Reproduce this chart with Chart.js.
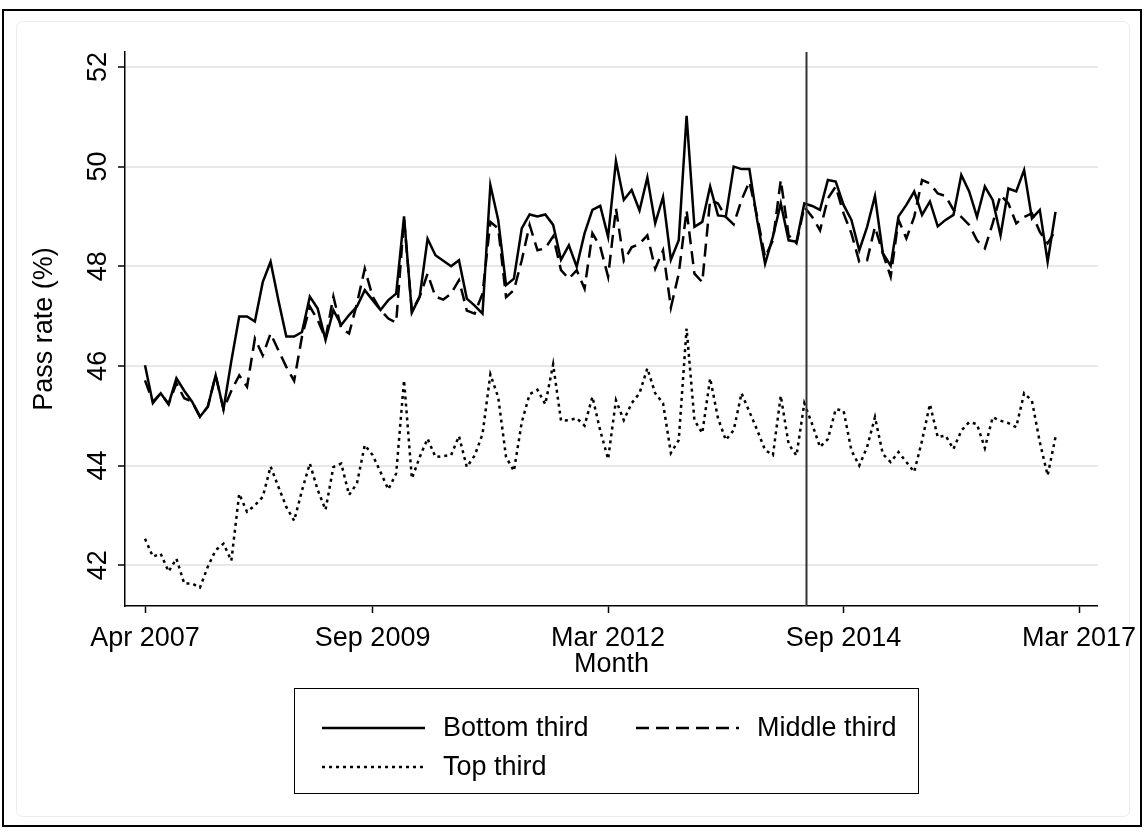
<!DOCTYPE html>
<html>
<head>
<meta charset="utf-8">
<script src="https://cdn.jsdelivr.net/npm/chart.js@4"></script>
<style>
  html, body { margin: 0; padding: 0; background: #fff; }
</style>
</head>
<body>
<canvas id="chart" width="1146" height="834"></canvas>
<script>
// monthly pass rates, first month = Apr 2007 (month index 0)
const bottomThird = [
  46.01, 45.25, 45.45, 45.23, 45.75, 45.50, 45.28, 44.98, 45.18, 45.81,
  45.13, 46.10, 46.99, 46.99, 46.89, 47.68, 48.09, 47.31, 46.59, 46.59,
  46.68, 47.39, 47.15, 46.52, 47.12, 46.82, 47.02, 47.19, 47.52, 47.32,
  47.12, 47.32, 47.45, 49.00, 47.07, 47.39, 48.55, 48.22, 48.11, 48.00,
  48.12, 47.35, 47.21, 47.05, 49.63, 48.93, 47.62, 47.75, 48.76, 49.04,
  49.00, 49.04, 48.83, 48.13, 48.42, 47.99, 48.66, 49.13, 49.21, 48.59,
  50.11, 49.33, 49.53, 49.12, 49.78, 48.86, 49.39, 48.13, 48.52, 51.02,
  48.79, 48.89, 49.60, 49.02, 49.00, 50.00, 49.95, 49.95, 48.92, 48.05,
  48.60, 49.26, 48.52, 48.49, 49.26, 49.21, 49.13, 49.73, 49.70, 49.23,
  48.93, 48.32, 48.79, 49.41, 48.26, 48.01, 49.00, 49.23, 49.50, 49.03,
  49.30, 48.80, 48.93, 49.03, 49.83, 49.50, 48.99, 49.60, 49.33, 48.62,
  49.56, 49.50, 49.93, 48.96, 49.13, 48.09, 49.09
];
const middleThird = [
  45.71, 45.28, 45.45, 45.23, 45.65, 45.35, 45.28, 44.98, 45.18, 45.81,
  45.13, 45.50, 45.81, 45.58, 46.55, 46.21, 46.65, 46.31, 45.98, 45.70,
  46.59, 47.19, 46.92, 46.55, 47.39, 46.75, 46.65, 47.25, 47.95, 47.39,
  47.12, 46.95, 46.87, 48.95, 47.09, 47.39, 47.85, 47.39, 47.33, 47.45,
  47.72, 47.11, 47.05, 47.45, 48.89, 48.76, 47.38, 47.52, 48.12, 48.83,
  48.32, 48.36, 48.60, 47.92, 47.75, 47.92, 47.55, 48.66, 48.39, 47.79,
  49.16, 48.11, 48.38, 48.45, 48.62, 47.95, 48.32, 47.17, 47.85, 49.12,
  47.85, 47.68, 49.33, 49.26, 48.99, 48.84, 49.33, 49.70, 48.99, 48.18,
  48.52, 49.73, 48.62, 48.46, 49.19, 48.99, 48.72, 49.36, 49.60, 49.06,
  48.66, 48.09, 48.12, 48.79, 48.26, 47.79, 48.93, 48.56, 48.99, 49.73,
  49.66, 49.46, 49.41, 49.13, 48.99, 48.83, 48.52, 48.36, 48.86, 49.43,
  49.26, 48.86, 48.99, 49.06, 48.69, 48.46, 48.72
];
const topThird = [
  42.53, 42.17, 42.23, 41.87, 42.13, 41.63, 41.63, 41.55, 41.97, 42.30,
  42.43, 42.09, 43.43, 43.07, 43.20, 43.37, 43.98, 43.57, 43.17, 42.89,
  43.50, 44.04, 43.51, 43.11, 43.97, 44.04, 43.41, 43.64, 44.41, 44.21,
  43.87, 43.52, 43.84, 45.71, 43.74, 44.17, 44.54, 44.17, 44.19, 44.21,
  44.59, 43.97, 44.20, 44.63, 45.83, 45.37, 44.17, 43.89, 44.87, 45.43,
  45.52, 45.23, 46.03, 44.90, 44.91, 44.95, 44.80, 45.38, 44.70, 44.13,
  45.31, 44.91, 45.25, 45.45, 45.95, 45.45, 45.25, 44.25, 44.51, 46.75,
  44.91, 44.65, 45.75, 44.95, 44.51, 44.71, 45.45, 45.08, 44.71, 44.31,
  44.21, 45.40, 44.43, 44.20, 45.25, 44.83, 44.37, 44.53, 45.13, 45.10,
  44.30, 44.00, 44.37, 44.97, 44.23, 44.07, 44.27, 44.07, 43.87, 44.50,
  45.23, 44.57, 44.60, 44.33, 44.70, 44.87, 44.83, 44.35, 44.97, 44.90,
  44.85, 44.77, 45.45, 45.30, 44.47, 43.80, 44.57
];

const seriesLabels = ['Bottom third', 'Middle third', 'Top third'];

// x axis ticks, as month index from Apr 2007
const xTickMonths = [0, 29, 59, 89, 119];
const xTickLabels = ['Apr 2007', 'Sep 2009', 'Mar 2012', 'Sep 2014', 'Mar 2017'];
const yTicks = [42, 44, 46, 48, 50, 52];

// month of the policy change marker (Apr 2014)
const reformMonth = 84.2;

const FONT = "'Liberation Sans', Arial, Helvetica, sans-serif";
const FONT_SIZE = 27;
Chart.defaults.font.family = FONT;
Chart.defaults.font.size = FONT_SIZE;
Chart.defaults.color = '#000';

const toPoints = arr => arr.map((v, i) => ({ x: i, y: v }));

// graph region: white fill, faint inner border, black outer frame
const frame = {
  id: 'frame',
  beforeDraw(chart) {
    const ctx = chart.ctx;
    ctx.save();
    ctx.fillStyle = '#fff';
    ctx.fillRect(0, 0, chart.width, chart.height);
    ctx.strokeStyle = '#ececec';
    ctx.lineWidth = 1;
    ctx.beginPath();
    ctx.roundRect(16.5, 21.5, 1113, 795, 6);
    ctx.stroke();
    ctx.strokeStyle = '#000';
    ctx.lineWidth = 2;
    ctx.strokeRect(3, 10, 1138, 816);
    ctx.restore();
  }
};

const cutoffLine = {
  id: 'cutoffLine',
  afterDatasetsDraw(chart) {
    const { ctx, chartArea, scales } = chart;
    const x = Math.round(scales.x.getPixelForValue(reformMonth)) + 0.5;
    ctx.save();
    ctx.strokeStyle = '#333';
    ctx.lineWidth = 2;
    ctx.beginPath();
    ctx.moveTo(x, chartArea.top);
    ctx.lineTo(x, chartArea.bottom);
    ctx.stroke();
    ctx.restore();
  }
};

// boxed legend in two columns under the plot
const boxLegend = {
  id: 'boxLegend',
  afterDraw(chart) {
    const ctx = chart.ctx;
    const left = 294, top = 688, width = 624, height = 105;
    ctx.save();
    ctx.strokeStyle = '#000';
    ctx.lineWidth = 1;
    ctx.strokeRect(left + 0.5, top + 0.5, width, height);
    ctx.font = FONT_SIZE + 'px ' + FONT;
    ctx.textBaseline = 'middle';
    ctx.fillStyle = '#000';
    chart.data.datasets.forEach((ds, i) => {
      const col = i % 2, row = Math.floor(i / 2);
      const x = left + 28 + col * 314;
      const y = top + 40 + row * 39;
      ctx.strokeStyle = ds.borderColor;
      ctx.lineWidth = ds.borderWidth;
      ctx.setLineDash(ds.borderDash || []);
      ctx.beginPath();
      ctx.moveTo(x, y);
      ctx.lineTo(x + 103, y);
      ctx.stroke();
      ctx.setLineDash([]);
      ctx.fillText(ds.label, x + 121, y + 1);
    });
    ctx.restore();
  }
};

const lineStyle = {
  borderColor: '#000',
  borderWidth: 2.5,
  pointRadius: 0,
  tension: 0,
  fill: false
};

new Chart(document.getElementById('chart'), {
  type: 'line',
  data: {
    datasets: [
      { label: seriesLabels[0], data: toPoints(bottomThird), ...lineStyle, borderDash: [] },
      { label: seriesLabels[1], data: toPoints(middleThird), ...lineStyle, borderDash: [13, 7] },
      { label: seriesLabels[2], data: toPoints(topThird), ...lineStyle, borderDash: [3, 4] }
    ]
  },
  options: {
    responsive: false,
    animation: false,
    layout: { padding: { top: 52, right: 48, bottom: 150, left: 0 } },
    plugins: {
      legend: { display: false },
      tooltip: { enabled: false }
    },
    scales: {
      x: {
        type: 'linear',
        min: -2.55,
        max: 121.4,
        afterFit: s => { s.height = 78; },
        afterBuildTicks: s => { s.ticks = xTickMonths.map(v => ({ value: v })); },
        ticks: {
          padding: 9,
          maxRotation: 0,
          callback: v => xTickLabels[xTickMonths.indexOf(v)]
        },
        grid: { drawOnChartArea: false, tickLength: 7, tickColor: '#000', tickWidth: 1.5 },
        border: { color: '#000', width: 1.5 },
        title: { display: true, text: 'Month', padding: { top: 0, bottom: 3 } }
      },
      y: {
        min: 41.18,
        max: 52.3,
        afterFit: s => { s.width = 125; },
        afterBuildTicks: s => { s.ticks = yTicks.map(v => ({ value: v })); },
        ticks: { minRotation: 90, maxRotation: 90, crossAlign: 'center', padding: 4 },
        grid: { color: '#e8e8e8', lineWidth: 2, tickLength: 7, tickColor: '#000', tickWidth: 1.5 },
        border: { color: '#000', width: 1.5 },
        title: { display: true, text: 'Pass rate (%)', padding: { top: 28, bottom: 0 } }
      }
    }
  },
  plugins: [frame, cutoffLine, boxLegend]
});
</script>
</body>
</html>
